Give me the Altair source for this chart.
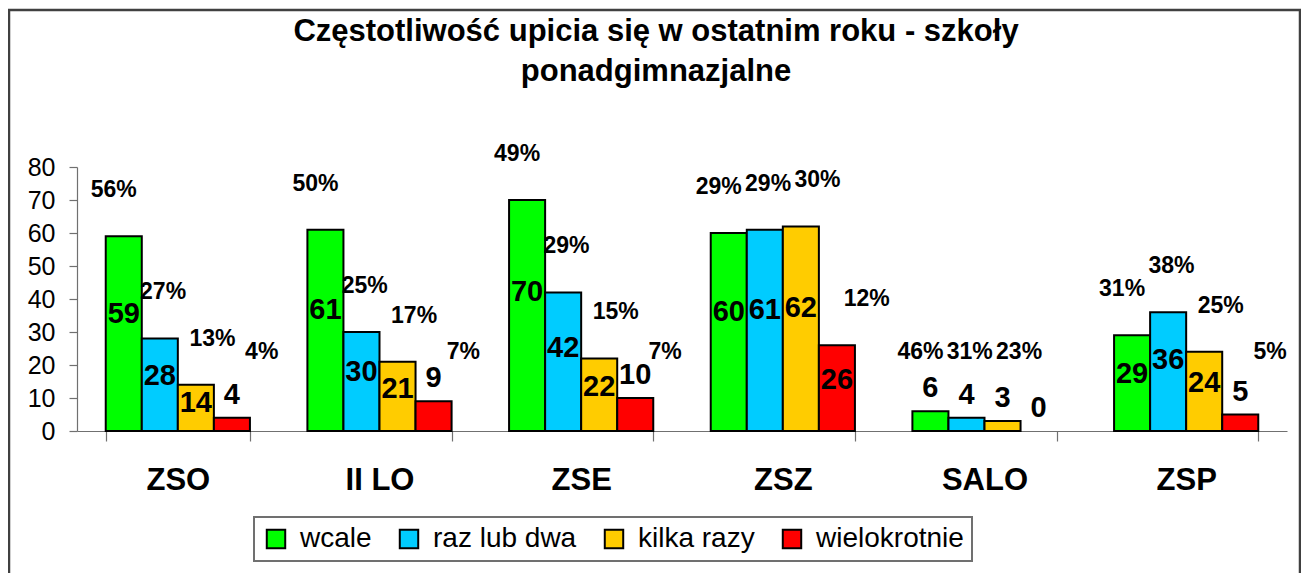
import altair as alt
import pandas as pd

categories = ["ZSO", "II LO", "ZSE", "ZSZ", "SALO", "ZSP"]
series = ["wcale", "raz lub dwa", "kilka razy", "wielokrotnie"]
colors = ["#00FF00", "#00CCFF", "#FFCC00", "#FF0000"]

wcale = [59, 61, 70, 60, 6, 29]
raz_lub_dwa = [28, 30, 42, 61, 4, 36]
kilka_razy = [14, 21, 22, 62, 3, 24]
wielokrotnie = [4, 9, 10, 26, 0, 5]

pct_wcale = [56, 50, 49, 29, 46, 31]
pct_raz_lub_dwa = [27, 25, 29, 29, 31, 38]
pct_kilka_razy = [13, 17, 15, 30, 23, 25]
pct_wielokrotnie = [4, 7, 7, 12, 0, 5]

title_lines = ["Częstotliwość upicia się w ostatnim roku - szkoły", "ponadgimnazjalne"]
y_ticks = [0, 10, 20, 30, 40, 50, 60, 70, 80]

values = [wcale, raz_lub_dwa, kilka_razy, wielokrotnie]
pcts = [pct_wcale, pct_raz_lub_dwa, pct_kilka_razy, pct_wielokrotnie]
rows = []
for s, vals, ps in zip(series, values, pcts):
    for c, v, p in zip(categories, vals, ps):
        rows.append({"school": c, "series": s, "value": v, "pct": p})
df = pd.DataFrame(rows)

FONT = "Liberation Sans"
GRAY = "#707070"

x_enc = alt.X("school:N", sort=categories,
              scale=alt.Scale(domain=categories, paddingInner=0.285, paddingOuter=0.1425),
              axis=alt.Axis(title=None, labelFontSize=31, labelFontWeight="bold", labelFont=FONT,
                            labelColor="black", labelAngle=0, tickBand="extent", tickSize=10,
                            labelPadding=24, domainColor=GRAY, tickColor=GRAY,
                            domainWidth=1.2, tickWidth=1.2))
x_plain = alt.X("school:N", sort=categories)
xoff = alt.XOffset("series:N", sort=series, scale=alt.Scale(domain=series))
# percentage labels sit on a wider spread than the bars themselves
xoff_pct = alt.XOffset("series:N", sort=series,
                       scale=alt.Scale(domain=series, range=[8, 156], padding=0))
y_scale = alt.Scale(domain=[0, 80], nice=False)
y_axis = alt.Axis(title=None, values=y_ticks, labelFontSize=25, labelFont=FONT,
                  labelColor="black", tickSize=8, labelPadding=14, grid=False,
                  labelOverlap=False, labelFlush=False,
                  domainColor=GRAY, tickColor=GRAY, domainWidth=1.2, tickWidth=1.2)

base = alt.Chart(df)

bars = base.mark_bar(stroke="black").encode(
    x=x_enc,
    xOffset=xoff,
    y=alt.Y("value:Q", scale=y_scale, axis=y_axis),
    color=alt.Color("series:N", sort=series,
                    scale=alt.Scale(domain=series, range=colors),
                    legend=alt.Legend(title=None, orient="none", legendX=177, legendY=350,
                                      direction="horizontal", columns=4, symbolType="square",
                                      symbolSize=340, symbolStrokeColor="black", symbolStrokeWidth=2,
                                      labelFontSize=28, labelFont=FONT, labelColor="black",
                                      labelOffset=10, columnPadding=23, padding=8,
                                      strokeColor=GRAY, fillColor="white", labelLimit=300)),
    strokeWidth=alt.condition("datum.value > 0", alt.value(2), alt.value(0)),
)

inside = base.transform_filter("datum.value >= 12").transform_calculate(
    label_y="datum.value * 0.6"
).mark_text(fontSize=29, fontWeight="bold", font=FONT, color="black", baseline="middle").encode(
    x=x_plain,
    xOffset=xoff,
    y=alt.Y("label_y:Q", scale=y_scale, axis=y_axis),
    text=alt.Text("value:Q"),
)

above = base.transform_filter("datum.value < 12").mark_text(
    fontSize=29, fontWeight="bold", font=FONT, color="black", baseline="alphabetic", dy=-14
).encode(
    x=x_plain,
    xOffset=xoff,
    y=alt.Y("value:Q", scale=y_scale, axis=y_axis),
    text=alt.Text("value:Q"),
)

pct_text = base.transform_filter("datum.pct > 0").transform_calculate(
    pct_label="datum.pct + '%'",
    pct_y="max(datum.value, 10) + 14",
).mark_text(
    fontSize=23, fontWeight="bold", font=FONT, color="black", baseline="middle"
).encode(
    x=x_plain,
    xOffset=xoff_pct,
    y=alt.Y("pct_y:Q", scale=y_scale, axis=y_axis),
    text=alt.Text("pct_label:N"),
)

frame_df = pd.DataFrame([{"k": 1}])
border = alt.Chart(frame_df).mark_rect(fill=None, stroke="#404040", strokeWidth=2.5).encode(
    x=alt.value(-68), x2=alt.value(1223), y=alt.value(-157), y2=alt.value(520)
)

title = alt.Chart(frame_df).mark_text(
    fontSize=31, fontWeight="bold", font=FONT, color="black", align="center",
    baseline="alphabetic", lineHeight=40
).encode(
    x=alt.value(579), y=alt.value(-126), text=alt.value(title_lines)
)

chart = alt.layer(border, title, bars, inside, above, pct_text).resolve_scale(
    xOffset="independent"
).properties(
    width=1210, height=264,
    autosize=alt.AutoSizeParams(type="none"),
    padding={"left": 69, "top": 159, "right": 14, "bottom": 142},
).configure_view(stroke=None).configure_legend(strokeWidth=2)

chart.save("out.html", embed_options={"renderer": "svg", "actions": False})
